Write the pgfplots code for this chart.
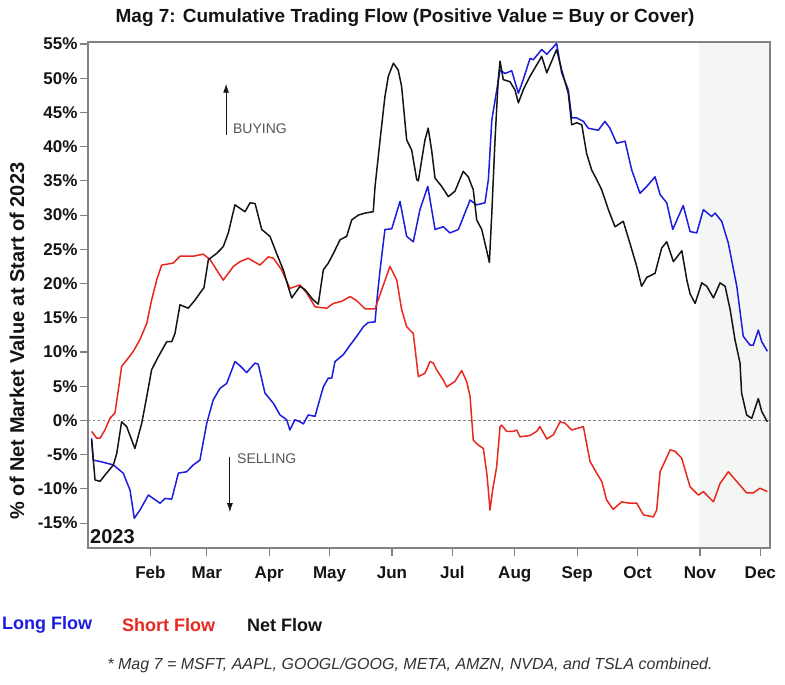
\documentclass[border=0pt]{standalone}
\usepackage{pgfplots}
\pgfplotsset{compat=1.18}
\usepackage{fontspec}
\setmainfont{Liberation Sans}
\usetikzlibrary{arrows.meta}
\definecolor{lblue}{RGB}{28,28,222}
\definecolor{sred}{RGB}{232,40,30}
\definecolor{nblack}{RGB}{20,20,20}
\definecolor{novshade}{RGB}{243,246,243}
\definecolor{framecol}{RGB}{130,130,130}
\begin{document}
\begin{tikzpicture}
\path[use as bounding box] (0,0) rectangle (785pt,685pt);
\begin{axis}[
  at={(88pt,137pt)}, anchor=south west,
  width=682pt, height=506pt, scale only axis,
  xmin=0, xmax=338.8, ymin=-18.64, ymax=55.3,
  axis on top, clip=false,
  axis line style={framecol, line width=1.2pt},
  xtick={31,59,90,120,151,181,212,243,273,304,334},
  xticklabels={Feb,Mar,Apr,May,Jun,Jul,Aug,Sep,Oct,Nov,Dec},
  ytick={-15,-10,-5,0,5,10,15,20,25,30,35,40,45,50,55},
  yticklabels={-15\%,-10\%,-5\%,0\%,5\%,10\%,15\%,20\%,25\%,30\%,35\%,40\%,45\%,50\%,55\%},
  xtick pos=lower, ytick pos=lower,
  tick align=outside, major tick length=8pt,
  tick style={framecol, line width=1.1pt},
  ticklabel style={font=\fontsize{17}{20}\selectfont\bfseries, text=nblack},
  /pgf/number format/assume math mode=true,
  xticklabel style={yshift=-7pt},
  yticklabel style={xshift=1pt},
]
\fill[novshade] (axis cs:303.5,-18.64) rectangle (axis cs:338.8,55.3);
\draw[gray, line width=0.9pt, dash pattern=on 2.5pt off 2.5pt] (axis cs:0,0) -- (axis cs:338.8,0);

\addplot[lblue, line width=1.5pt, line join=round] coordinates {
(1.8,-2.6)(2.6,-5.8)(6.0,-6.0)(12.6,-6.5)(17.5,-7.7)(20.9,-10.2)(23.0,-14.3)(25.8,-13.1)(30.0,-10.9)(35.8,-12.1)(38.3,-11.4)(41.6,-11.5)(44.9,-7.7)(49.0,-7.5)(52.3,-6.5)(55.6,-5.8)(59.0,-0.4)(62.2,3.0)(65.6,4.7)(68.9,5.4)(73.0,8.6)(75.5,8.0)(78.8,7.0)(83.0,8.4)(84.6,8.2)(87.9,4.0)(92.1,2.5)(95.4,0.8)(98.7,0.1)(100.3,-1.4)(102.8,0.1)(105.3,-0.2)(107.0,-0.5)(109.4,0.8)(112.8,0.6)(114.4,2.3)(116.9,4.9)(119.4,6.2)(121.1,6.2)(122.7,8.6)(126.8,9.6)(130.2,11.0)(133.5,12.3)(136.8,13.7)(139.2,14.3)(142.6,14.4)(143.7,18.1)(145.1,22.0)(147.5,27.9)(150.9,28.0)(155.0,32.0)(158.3,26.9)(161.6,26.1)(164.9,30.8)(168.8,34.2)(172.4,27.9)(176.5,28.3)(179.8,27.4)(184.0,27.9)(189.8,32.2)(193.1,31.5)(197.2,31.8)(198.9,35.2)(200.6,43.9)(204.7,51.2)(207.2,50.7)(210.5,51.1)(213.8,47.8)(216.2,49.8)(219.6,52.9)(221.2,52.7)(225.4,54.2)(227.9,53.5)(232.8,55.1)(235.3,50.8)(238.6,48.3)(240.3,44.2)(242.8,44.2)(246.1,43.7)(248.5,42.7)(253.5,42.4)(256.8,43.7)(259.3,42.7)(262.6,40.5)(266.8,40.8)(270.1,36.6)(274.2,33.2)(277.6,34.2)(281.7,35.6)(284.2,33.0)(287.5,31.8)(290.5,27.9)(295.7,31.4)(299.1,27.6)(302.4,27.4)(305.7,30.8)(309.8,29.8)(311.5,30.3)(314.8,29.1)(318.1,25.9)(322.3,19.6)(325.5,12.3)(328.9,11.0)(330.5,11.0)(333.0,13.2)(334.7,11.5)(337.5,10.1)
};

\addplot[sred, line width=1.5pt, line join=round] coordinates {
(1.8,-1.6)(4.3,-2.6)(6.0,-2.6)(8.4,-1.4)(10.9,0.3)(13.4,1.1)(15.1,4.5)(16.7,7.9)(19.2,8.8)(22.5,10.1)(25.8,11.8)(29.2,14.2)(31.6,17.6)(34.1,20.5)(36.6,22.7)(42.4,23.0)(45.7,24.0)(52.3,24.0)(57.3,24.3)(60.6,23.5)(67.2,20.5)(72.2,22.5)(75.5,23.2)(79.6,23.7)(85.4,22.7)(89.6,23.9)(92.1,23.7)(96.2,22.0)(100.3,19.3)(105.3,19.8)(108.7,18.6)(112.8,16.6)(118.6,16.4)(121.9,17.1)(126.0,17.4)(130.2,18.1)(133.5,17.5)(137.6,16.3)(142.6,16.3)(145.9,19.1)(150.0,22.5)(153.4,20.5)(155.8,16.2)(158.3,13.7)(161.6,12.7)(164.1,6.4)(167.4,6.9)(169.9,8.6)(171.5,8.4)(173.2,7.4)(176.5,5.9)(178.2,4.9)(182.3,5.7)(185.6,7.3)(188.1,5.7)(189.8,3.5)(191.4,-2.9)(193.9,-3.6)(196.4,-4.1)(198.1,-7.7)(198.9,-10.2)(199.7,-13.1)(201.0,-10.2)(203.0,-6.8)(204.7,-0.9)(205.5,-0.7)(208.0,-1.6)(211.3,-1.6)(213.0,-1.4)(214.6,-2.4)(219.6,-2.2)(222.9,-1.6)(224.5,-0.9)(227.9,-2.7)(231.2,-2.1)(234.5,-0.2)(237.0,-0.4)(240.3,-1.4)(246.1,-0.9)(249.4,-6.0)(252.7,-7.7)(255.2,-8.9)(257.6,-11.6)(260.9,-13.0)(265.1,-11.9)(269.2,-12.1)(272.6,-12.1)(275.9,-13.8)(280.8,-14.1)(282.5,-13.1)(284.2,-7.5)(289.2,-4.3)(291.6,-4.5)(294.9,-5.5)(299.1,-9.7)(303.2,-10.9)(305.7,-10.4)(310.7,-11.9)(314.0,-9.2)(318.1,-7.5)(323.1,-9.2)(327.2,-10.6)(330.5,-10.6)(333.8,-9.9)(337.5,-10.4)
};

\addplot[nblack, line width=1.5pt, line join=round] coordinates {
(1.8,-2.9)(3.5,-8.7)(6.0,-8.9)(8.4,-8.0)(12.6,-6.5)(14.3,-4.8)(16.7,-0.2)(19.2,-0.9)(23.3,-4.1)(26.7,-0.4)(29.2,3.5)(31.6,7.4)(34.9,9.3)(39.1,11.5)(41.6,11.5)(43.2,12.7)(45.7,16.9)(49.8,16.4)(53.2,17.6)(55.6,18.6)(57.6,19.4)(59.8,23.5)(63.9,24.4)(67.2,25.4)(69.7,27.4)(73.0,31.5)(78.0,30.5)(80.5,31.8)(83.0,31.7)(86.3,27.9)(90.4,26.9)(93.7,24.4)(97.0,22.0)(99.5,19.5)(101.2,17.9)(105.3,19.6)(107.8,19.1)(111.9,17.6)(114.4,17.0)(116.9,22.0)(119.4,23.0)(121.9,24.4)(125.2,26.4)(128.5,26.9)(131.0,29.3)(134.3,30.0)(137.6,30.3)(141.7,30.5)(142.6,34.2)(145.1,41.0)(147.5,47.3)(149.2,50.3)(151.7,52.2)(154.1,51.2)(155.8,48.8)(158.3,41.0)(160.8,39.5)(163.3,35.2)(164.1,35.0)(167.4,41.0)(169.0,42.7)(170.7,39.5)(172.4,35.4)(175.7,34.2)(179.0,32.7)(182.3,33.5)(186.4,36.4)(188.9,35.6)(191.4,33.7)(193.1,29.3)(195.6,27.9)(197.2,25.9)(199.4,23.1)(200.6,30.3)(202.2,41.0)(203.8,49.8)(204.7,52.5)(206.3,49.8)(209.6,49.5)(212.1,48.3)(213.8,46.4)(216.2,48.3)(219.6,50.3)(225.4,53.2)(227.9,50.8)(232.8,54.2)(235.3,51.2)(238.6,47.8)(240.3,43.2)(242.8,43.5)(245.3,43.2)(247.7,39.0)(250.2,36.6)(252.7,35.2)(255.2,33.7)(258.5,30.8)(261.8,28.3)(265.9,29.1)(269.2,25.9)(272.6,22.5)(275.0,19.6)(277.6,20.9)(281.7,21.5)(285.0,25.2)(287.5,26.1)(290.8,23.2)(295.0,24.8)(297.5,20.5)(299.1,18.5)(301.6,17.1)(304.9,20.1)(307.4,19.6)(310.7,17.9)(314.0,20.1)(316.5,19.6)(319.0,16.2)(321.4,11.8)(323.9,8.4)(324.7,4.0)(327.2,0.8)(329.7,0.3)(333.0,3.2)(334.7,1.3)(337.5,-0.2)
};

\draw[nblack, line width=0.9pt, -{Latex[length=9pt,width=6pt]}] (axis cs:68.6,41.7) -- (axis cs:68.6,49.2);
\node[anchor=west, text={rgb,255:red,85;green,85;blue,85}, font=\fontsize{14}{16}\selectfont, inner sep=0pt] at (axis cs:72.0,42.7) {BUYING};
\draw[nblack, line width=0.9pt, -{Latex[length=9pt,width=6pt]}] (axis cs:70.5,-5.3) -- (axis cs:70.5,-13.4);
\node[anchor=west, text={rgb,255:red,85;green,85;blue,85}, font=\fontsize{14}{16}\selectfont, inner sep=0pt] at (axis cs:74.0,-5.6) {SELLING};
\node[anchor=west, text=nblack, font=\fontsize{20}{22}\selectfont\bfseries, inner sep=0pt] at (axis cs:1.0,-17.0) {2023};
\end{axis}
\node[text=nblack, font=\fontsize{19}{22}\selectfont\bfseries] at (405pt,667pt) {Mag 7: Cumulative Trading Flow (Positive Value = Buy or Cover)};
\node[text=nblack, rotate=90, font=\fontsize{20}{22}\selectfont\bfseries] at (17pt,344pt) {\% of Net Market Value at Start of 2023};
\node[anchor=west, inner sep=0pt, text=lblue, font=\fontsize{18}{20}\selectfont\bfseries] at (2pt,60pt) {Long Flow};
\node[anchor=west, inner sep=0pt, text=sred, font=\fontsize{18}{20}\selectfont\bfseries] at (122pt,60pt) {Short Flow};
\node[anchor=west, inner sep=0pt, text=nblack, font=\fontsize{18}{20}\selectfont\bfseries] at (247pt,60pt) {Net Flow};
\node[text={rgb,255:red,50;green,50;blue,50}, font=\fontsize{16}{18}\selectfont\itshape] at (410pt,20pt) {* Mag 7 = MSFT, AAPL, GOOGL/GOOG, META, AMZN, NVDA, and TSLA combined.};
\end{tikzpicture}
\end{document}
